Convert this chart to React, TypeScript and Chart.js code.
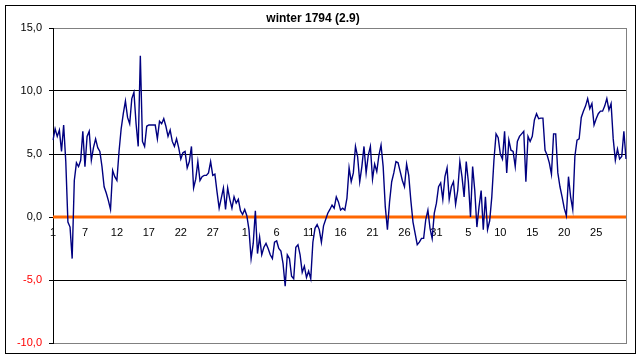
import React, { useEffect, useRef } from "react";
import { Chart, registerables } from "chart.js";

Chart.register(...registerables);

const TITLE = "winter 1794 (2.9)";

// day-of-month labels shown every 15th observation (3 observations per day)
const tickLabels = ["1", "7", "12", "17", "22", "27", "1", "6", "11", "16", "21", "26", "31", "5", "10", "15", "20", "25"];

// temperature readings, December 1793 – February 1794
const temps = [
  6.1, 7.0, 6.4, 6.9, 5.2, 7.3, 4.4, -0.4, -0.8, -3.3,
  2.9, 4.3, 4.0, 4.5, 6.8, 4.0, 6.4, 6.8, 4.5, 5.5,
  6.2, 5.5, 5.2, 4.0, 2.4, 1.9, 1.3, 0.6, 3.7, 3.2,
  2.9, 5.2, 7.0, 8.2, 9.2, 7.9, 7.4, 9.4, 9.9, 7.4,
  5.6, 12.8, 6.0, 5.6, 7.2, 7.3, 7.3, 7.3, 7.3, 6.2,
  7.6, 7.4, 7.8, 7.2, 6.4, 6.9, 6.0, 5.6, 6.2, 5.5,
  4.6, 5.1, 5.2, 3.9, 4.4, 5.6, 2.3, 3.0, 4.4, 2.9,
  3.2, 3.3, 3.3, 3.5, 4.4, 3.3, 3.4, 2.0, 0.7, 1.5,
  2.3, 0.6, 2.3, 1.4, 0.7, 1.6, 1.1, 1.4, 0.5, 0.2,
  0.6, 0.1, -1.0, -3.3, -2.1, 0.5, -2.9, -1.6, -3.0, -2.4,
  -2.1, -2.5, -3.0, -3.3, -2.0, -1.9, -2.5, -2.7, -3.7, -5.5,
  -3.0, -3.3, -4.7, -4.9, -2.4, -2.2, -3.0, -4.4, -3.9, -4.8,
  -4.3, -4.9, -2.0, -0.9, -0.6, -1.0, -2.0, -0.7, -0.2, 0.3,
  0.6, 0.95, 0.7, 1.6, 1.2, 0.55, 0.7, 0.55, 1.5, 3.9,
  2.8, 3.5, 5.6, 4.8, 2.8, 4.0, 5.6, 3.5, 4.9, 5.6,
  3.0, 4.2, 3.6, 4.9, 5.7, 4.0, 0.8, -1.0, 1.2, 2.8,
  3.5, 4.4, 4.3, 3.6, 2.9, 2.4, 4.2, 3.3, 1.3, -0.4,
  -1.3, -2.2, -2.0, -1.7, -1.7, -0.2, 0.55, -0.9, -1.7, 0.3,
  1.1, 2.4, 2.7, 1.4, 3.2, 3.9, 1.4, 2.4, 2.8, 1.0,
  2.1, 4.4, 3.2, 1.6, 4.4, 2.8, 0.0, 4.0, 2.1, -0.8,
  0.8, 2.1, -1.0, 1.6, -1.0, -0.3, 1.6, 4.5, 6.6, 6.3,
  5.0, 4.6, 6.8, 3.5, 6.1, 5.3, 5.2, 4.0, 6.0, 6.4,
  6.6, 6.8, 2.8, 6.4, 6.0, 6.4, 7.7, 8.2, 7.8, 7.85,
  7.85, 5.3, 4.9, 4.3, 3.4, 6.6, 6.6, 3.5, 2.4, 1.6,
  0.7, 0.1, 3.2, 1.6, 0.6, 4.8, 6.1, 6.2, 7.9, 8.4,
  8.8, 9.4, 8.6, 9.0, 7.3, 7.8, 8.2, 8.4, 8.4, 8.8,
  9.4, 8.5, 9.0, 6.2, 4.5, 5.4, 4.6, 4.8, 6.8, 4.6,
];

const categories = temps.map((_, i) => String(i));
const zeroLine = temps.map(() => 0);

const yMin = -10;
const yMax = 15;
const yStep = 5;

export default function App() {
  const ref = useRef<HTMLCanvasElement>(null);

  useEffect(() => {
    if (!ref.current) return;
    const family = "Arial, 'Liberation Sans', sans-serif";

    const frame = {
      id: "frame",
      beforeDatasetsDraw(chart: any) {
        const { ctx, chartArea } = chart;
        ctx.save();
        ctx.strokeStyle = "#808080";
        ctx.lineWidth = 1;
        ctx.beginPath();
        const xr = Math.round(chartArea.right) + 0.5;
        ctx.moveTo(xr, Math.round(chartArea.top));
        ctx.lineTo(xr, Math.round(chartArea.bottom) + 1);
        ctx.stroke();
        ctx.restore();
      },
      afterDraw(chart: any) {
        const { ctx } = chart;
        ctx.save();
        ctx.strokeStyle = "#000000";
        ctx.lineWidth = 1;
        ctx.strokeRect(5.5, 5.5, 630, 348);
        ctx.restore();
      },
    };

    const chart = new Chart(ref.current, {
      type: "line",
      data: {
        labels: categories,
        datasets: [
          {
            data: temps,
            borderColor: "#000080",
            borderWidth: 1.4,
            pointRadius: 0,
            tension: 0,
            order: 1,
          },
          {
            data: zeroLine,
            borderColor: "#FF6600",
            borderWidth: 3,
            pointRadius: 0,
            tension: 0,
            order: 2,
          },
        ],
      },
      options: {
        responsive: false,
        animation: false,
        devicePixelRatio: 1,
        layout: { padding: { left: 0, right: 16, top: 0, bottom: 16 } },
        plugins: {
          legend: { display: false },
          tooltip: { enabled: false },
          title: {
            display: true,
            text: TITLE,
            color: "#000000",
            font: { family, size: 12, weight: "bold" },
            padding: { top: 11, bottom: 2.6 },
          },
        },
        scales: {
          x: {
            type: "category",
            position: { y: 0 } as any,
            grid: { display: false, drawTicks: false },
            border: { display: false },
            ticks: {
              autoSkip: false,
              maxRotation: 0,
              minRotation: 0,
              padding: 9,
              color: "#000000",
              font: { family, size: 11 },
              callback: (_v: any, i: number) => (i % 15 === 0 ? tickLabels[i / 15] ?? "" : ""),
            },
          },
          y: {
            min: yMin,
            max: yMax,
            ticks: {
              stepSize: yStep,
              padding: 7,
              font: { family, size: 11 },
              color: (c: any) => (c.tick && c.tick.value < 0 ? "#FF0000" : "#000000"),
              callback: (v: any) => Number(v).toFixed(1).replace(".", ","),
            },
            grid: {
              color: (c: any) =>
                c.tick && (c.tick.value === yMax || c.tick.value === yMin) ? "#808080" : "#000000",
              tickColor: "#000000",
              tickLength: 4,
              lineWidth: 1,
            },
            border: { color: "#000000", width: 1 },
            afterFit: (s: any) => {
              s.width = 53;
            },
          },
        },
      },
      plugins: [frame],
    });

    return () => chart.destroy();
  }, []);

  return (
    <div style={{ position: "absolute", left: 0, top: 0, width: 642, height: 359, background: "#ffffff" }}>
      <canvas ref={ref} width={642} height={359} style={{ display: "block" }} />
    </div>
  );
}
